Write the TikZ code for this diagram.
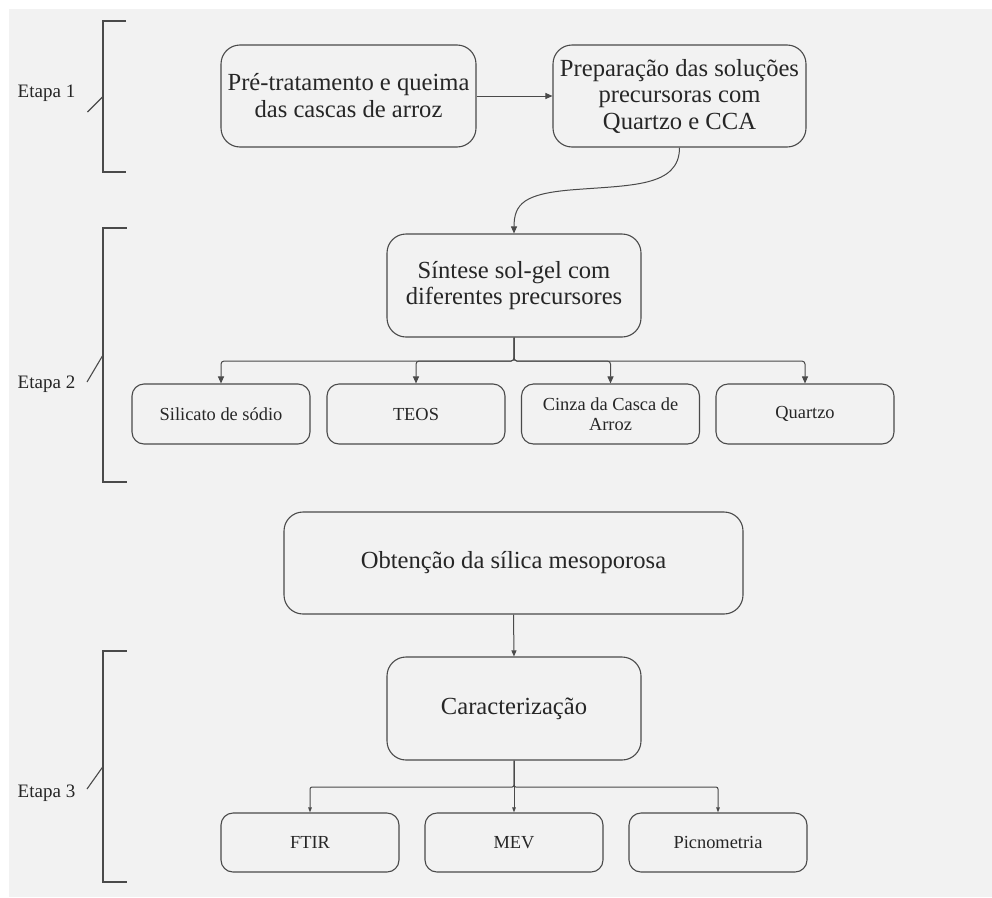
\documentclass[tikz,border=0pt]{standalone}
\usepackage{fontspec}
\setmainfont{Liberation Serif}
\usetikzlibrary{arrows.meta}
\definecolor{bg}{HTML}{F2F2F2}
\definecolor{ln}{HTML}{4A4A4A}
\definecolor{tx}{HTML}{262626}
\begin{document}
\begin{tikzpicture}[x=1pt,y=-1pt,
 box/.style={draw=ln, line width=1.1pt, rounded corners=19pt, inner sep=0pt, align=center, text=tx, font=\fontsize{24.6}{27}\selectfont},
 sbox/.style={draw=ln, line width=1.1pt, rounded corners=12pt, inner sep=0pt, align=center, text=tx, font=\fontsize{18.4}{20}\selectfont, minimum width=178pt, minimum height=60pt},
 conn/.style={draw=ln, line width=1pt},
 arr/.style={conn, -{Triangle[length=7pt,width=6pt]}},
 marr/.style={conn, -{Triangle[length=6pt,width=5pt]}},
 sarr/.style={conn, -{Triangle[length=5pt,width=3.5pt]}, rounded corners=2pt},
 brk/.style={draw=ln, line width=1.1pt},
 lbl/.style={text=tx, font=\fontsize{19}{21}\selectfont, inner sep=0pt}
]
\fill[white] (0,0) rectangle (992,897);
\fill[bg] (9,9) rectangle (992,897);
\useasboundingbox (0,0) rectangle (992,897);

% brackets and stage labels
\draw[brk] (126,21) -- (103,21) -- (103,172) -- (126,172);
\draw[brk] (103,96.5) -- (87.5,112);
\node[lbl, anchor=base] (e1) at (46.5,97) {Etapa 1};
\draw[brk] (126.5,228) -- (103,228) -- (103,482) -- (126.5,482);
\draw[brk] (103,355) -- (87,382);
\node[lbl, anchor=base] (e2) at (46.5,388) {Etapa 2};
\draw[brk] (126.5,651) -- (103,651) -- (103,882) -- (126.5,882);
\draw[brk] (103,766.5) -- (87,789);
\node[lbl, anchor=base] (e3) at (46.5,797) {Etapa 3};

% boxes
\node[box, minimum width=255pt, minimum height=102pt] (pre) at (348.5,96) {Pré-tratamento e queima\\das cascas de arroz};
\node[box, minimum width=253pt, minimum height=102pt, font=\fontsize{24.6}{26.5}\selectfont] (prep) at (679.5,96) {Preparação das soluções\\precursoras com\\Quartzo e CCA};
\node[box, minimum width=254pt, minimum height=103pt, font=\fontsize{24.6}{26}\selectfont] (sint) at (514,285.5) {Síntese sol-gel com\\diferentes precursores};
\node[sbox] (sil) at (221,414) {Silicato de sódio};
\node[sbox] (teos) at (416,414) {TEOS};
\node[sbox] (cinza) at (610.5,414) {Cinza da Casca de\\Arroz};
\node[sbox] (qtz) at (805,414) {Quartzo};
\node[box, minimum width=459pt, minimum height=102pt] (obt) at (513.5,563) {Obtenção da sílica mesoporosa};
\node[box, minimum width=254pt, minimum height=103pt] (car) at (514,708.5) {Caracterização};
\node[sbox, minimum height=59pt] (ftir) at (310,842.5) {FTIR};
\node[sbox, minimum height=59pt] (mev) at (514,842.5) {MEV};
\node[sbox, minimum height=59pt] (pic) at (718,842.5) {Picnometria};

% connectors
\draw[arr] (pre.east) -- (prep.west);
\draw[arr] (prep.south) .. controls +(0,40) and +(60,-5) .. (570,190) .. controls +(-45,4) and +(0,-30) .. (sint.north);
\draw[arr, rounded corners=3pt] (sint.south) -- ++(0,23.5) -| (sil.north);
\draw[arr, rounded corners=3pt] (sint.south) -- ++(0,23.5) -| (teos.north);
\draw[arr, rounded corners=3pt] (sint.south) -- ++(0,23.5) -| (cinza.north);
\draw[arr, rounded corners=3pt] (sint.south) -- ++(0,23.5) -| (qtz.north);
\draw[marr] (obt.south) -- (car.north);
\draw[sarr] (car.south) -- ++(0,26.5) -| (ftir.north);
\draw[sarr] (car.south) -- (mev.north);
\draw[sarr] (car.south) -- ++(0,26.5) -| (pic.north);
\end{tikzpicture}
\end{document}
